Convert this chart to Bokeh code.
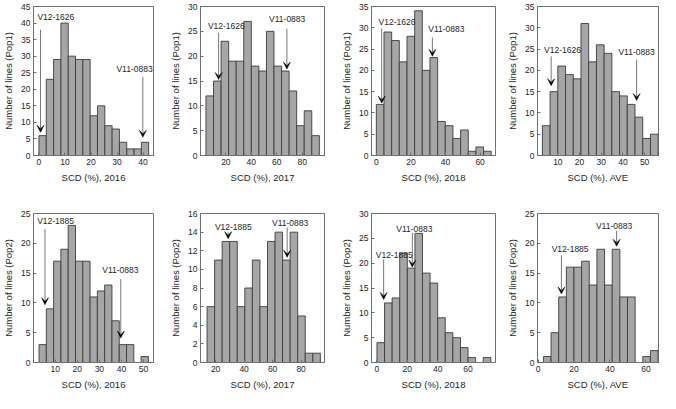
from bokeh.plotting import figure
from bokeh.models import Range1d, FixedTicker, Label, Arrow, VeeHead
from bokeh.layouts import column, row
from bokeh.embed import file_html
from bokeh.resources import INLINE
import numpy as np

# ---------------- data ----------------
x_labels = ["SCD (%), 2016", "SCD (%), 2017", "SCD (%), 2018", "SCD (%), AVE"] * 2
y_labels = ["Number of lines (Pop1)"] * 4 + ["Number of lines (Pop2)"] * 4

pop1_2016_counts = [6, 23, 29, 40, 30, 29, 29, 12, 15, 9, 8, 4, 2, 2, 4]
pop1_2017_counts = [12, 15, 23, 19, 19, 27, 18, 17, 25, 18, 17, 13, 6, 9, 4]
pop1_2018_counts = [12, 29, 27, 22, 28, 34, 20, 23, 8, 7, 4, 6, 1, 2, 1]
pop1_ave_counts = [7, 15, 21, 19, 18, 31, 22, 26, 24, 15, 14, 12, 9, 4, 5]
pop2_2016_counts = [3, 9, 17, 19, 23, 17, 17, 11, 12, 13, 7, 3, 3, 0, 1]
pop2_2017_counts = [6, 11, 13, 13, 6, 8, 11, 6, 13, 14, 11, 14, 5, 1, 1]
pop2_2018_counts = [4, 12, 13, 22, 19, 26, 18, 16, 9, 6, 5, 3, 1, 0, 1]
pop2_ave_counts = [1, 5, 11, 16, 16, 17, 13, 19, 13, 19, 11, 11, 0, 1, 2]

all_counts = [pop1_2016_counts, pop1_2017_counts, pop1_2018_counts, pop1_ave_counts,
              pop2_2016_counts, pop2_2017_counts, pop2_2018_counts, pop2_ave_counts]

# first bin edge and bin width (SCD %) of each histogram
bin_starts = [0.0, 4.4, 0.0, 2.85, 2.7, 14.0, 0.0, 3.0]
bin_widths = [2.81, 5.93, 4.43, 3.56, 3.3, 5.3, 5.0, 4.25]

x_limits = [(-2.1, 44.0), (0.1, 97.4), (-2.8, 68.9), (0.6, 56.4),
            (0.2, 54.5), (9.4, 96.4), (-3.6, 78.1), (-0.3, 67.0)]
x_ticks = [[0, 10, 20, 30, 40], [20, 40, 60, 80], [0, 20, 40, 60], [10, 20, 30, 40, 50],
           [10, 20, 30, 40, 50], [20, 40, 60, 80], [0, 20, 40, 60], [0, 20, 40, 60]]
y_max = [45, 30, 35, 35, 25, 16, 30, 25]
y_step = [5, 5, 5, 5, 5, 2, 5, 5]

# annotations: (label, label x, label y, arrow x, arrow start y, arrow tip y)
notes = [
    [("V12-1626", -0.6, 41.8, 0.6, 38.0, 7.0), ("V11-0883", 29.75, 26.2, 39.9, 23.7, 5.5)],
    [("V12-1626", 5.9, 26.0, 14.3, 24.7, 15.3), ("V11-0883", 53.9, 27.5, 67.9, 25.5, 17.4)],
    [("V12-1626", 1.3, 31.4, 3.1, 29.8, 12.3), ("V11-0883", 30.0, 29.6, 32.4, 27.7, 23.3)],
    [("V12-1626", 3.6, 24.7, 6.9, 23.3, 16.4), ("V11-0883", 37.9, 24.4, 46.3, 22.5, 12.9)],
    [("V12-1885", 1.85, 23.7, 5.4, 22.4, 9.7), ("V11-0883", 31.3, 15.6, 39.7, 14.0, 4.1)],
    [("V12-1885", 19.5, 14.6, 28.8, 14.0, 13.3), ("V11-0883", 59.6, 15.0, 70.2, 14.5, 11.3)],
    [("V12-1885", -0.8, 21.6, 4.4, 20.8, 12.7), ("V11-0883", 12.7, 26.9, 23.3, 26.1, 19.2)],
    [("V12-1885", 7.6, 19.1, 13.0, 18.0, 11.5), ("V11-0883", 32.2, 22.9, 43.7, 22.1, 19.5)],
]

# ---------------- layout / style ----------------
FONT = "Liberation Sans"
TXT = "#262626"
AX = "#707070"
col_borders = [(28, 125, 14), (30, 127, 14), (30, 127, 9), (30, 124, 2)]
row_borders = [(6, 149, 40), (18, 149, 30)]


def style_axis(ax):
    ax.major_tick_in = 3
    ax.major_tick_out = 0
    ax.minor_tick_line_color = None
    ax.axis_line_color = AX
    ax.major_tick_line_color = AX
    ax.major_label_text_font = FONT
    ax.major_label_text_color = TXT
    ax.major_label_text_font_size = "8.5px"
    ax.major_label_standoff = 3
    ax.axis_label_text_font = FONT
    ax.axis_label_text_font_style = "normal"
    ax.axis_label_text_color = TXT
    ax.axis_label_text_font_size = "9.5px"
    ax.axis_label_standoff = 4


figs = []
for i in range(8):
    r, c = divmod(i, 4)
    bl, fw, br = col_borders[c]
    bt, fh, bb = row_borders[r]
    p = figure(width=bl + fw + br, height=bt + fh + bb,
               x_range=Range1d(*x_limits[i]), y_range=Range1d(0, y_max[i]),
               output_backend="svg", toolbar_location=None,
               min_border_left=bl, min_border_right=br,
               min_border_top=bt, min_border_bottom=bb)
    p.xgrid.visible = False
    p.ygrid.visible = False
    p.outline_line_color = AX
    p.background_fill_color = "white"

    counts = np.array(all_counts[i], dtype=float)
    edges = bin_starts[i] + bin_widths[i] * np.arange(len(counts) + 1)
    keep = counts > 0
    p.quad(left=edges[:-1][keep], right=edges[1:][keep], bottom=0, top=counts[keep],
           fill_color="#a6a6a6", line_color="#3c3c3c", line_width=0.9)

    p.xaxis.ticker = FixedTicker(ticks=x_ticks[i])
    p.yaxis.ticker = FixedTicker(ticks=list(range(0, y_max[i] + 1, y_step[i])))
    p.xaxis.axis_label = x_labels[i]
    p.yaxis.axis_label = y_labels[i]
    style_axis(p.xaxis[0])
    style_axis(p.yaxis[0])

    for (txt, tx, ty, ax_, ay0, ay1) in notes[i]:
        p.add_layout(Label(x=tx, y=ty, text=txt, text_font=FONT, text_font_size="8.5px",
                           text_color=TXT, text_align="left", text_baseline="middle"))
        p.add_layout(Arrow(x_start=ax_, y_start=ay0, x_end=ax_, y_end=ay1,
                           line_color="#555555", line_width=0.8,
                           end=VeeHead(size=7, fill_color="black", line_color="black",
                                       line_width=0.5)))
    figs.append(p)

layout = column(row(*figs[:4]), row(*figs[4:]))
open("out.html", "w").write(file_html(layout, INLINE))
